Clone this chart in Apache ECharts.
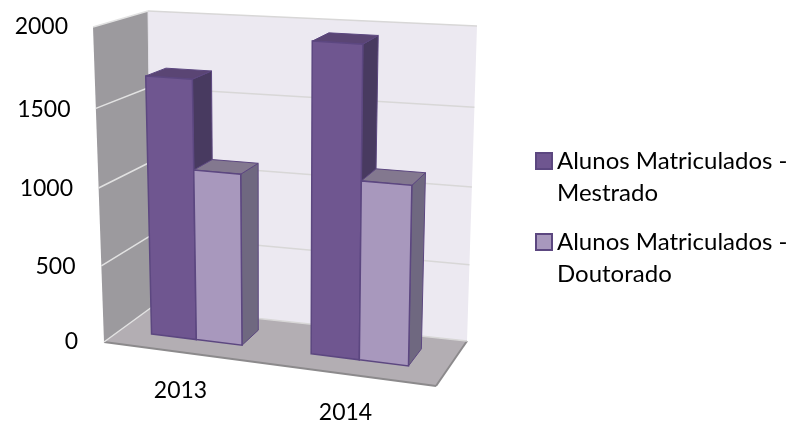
<!DOCTYPE html>
<html><head><meta charset="utf-8"><style>html,body{margin:0;background:#fff}#c{width:796px;height:421px}</style>
<script src="https://cdn.jsdelivr.net/npm/echarts@6/dist/echarts.min.js"></script></head>
<body><div id="c"></div><script>
const categories = ['2013', '2014'];
const mestrado = [1674, 1954];
const doutorado = [1104, 1128];
const seriesNames = ['Alunos Matriculados -\nMestrado', 'Alunos Matriculados -\nDoutorado'];
const yTicks = [0, 500, 1000, 1500, 2000];

// perspective box of the 3D chart: u along categories, v along values, w along depth
const FLB=[104,342],FRB=[436,386],FLT=[93,27],FRT=[443,50];
const BLB=[152,307],BRB=[467,341],BLT=[148,11],BRT=[477,26];
const GRID={left:98,top:27,width:330,height:315,outerBoundsMode:'none'};
const W1=0.34,W2=0.73,PERSP_V=0.956,PERSP_U=0.927;
const FONT='Lato',FS=24,FS_AXIS=23;
const labelShift={0:0,500:3,1000:4,1500:4,2000:0};
const lerp=(a,b,t)=>[a[0]+(b[0]-a[0])*t,a[1]+(b[1]-a[1])*t];
function proj(u,v,w){
  const h=v*(PERSP_V+(1-PERSP_V)*v);
  const s=u*(PERSP_U+(1-PERSP_U)*u);
  const f=lerp(lerp(FLB,FRB,s),lerp(FLT,FRT,s),h);
  const b=lerp(lerp(BLB,BRB,s),lerp(BLT,BRT,s),h);
  return lerp(f,b,w);
}
const uv=(p,cs)=>[(p[0]-cs.x)/cs.width,(cs.y+cs.height-p[1])/cs.height];
const poly=(points,fill,stroke,lw)=>({type:'polygon',shape:{points},style:{fill,stroke:stroke||null,lineWidth:lw||0}});
const line=(a,b,stroke,lw)=>({type:'line',shape:{x1:a[0],y1:a[1],x2:b[0],y2:b[1]},style:{stroke,lineWidth:lw}});

function wallsItem(params,api){
  return {type:'group',children:[
    poly([proj(0,1,0),proj(0,1,1),proj(0,0,1),proj(0,0,0)],'#9c9a9e'),
    poly([proj(0,1,1),proj(1,1,1),proj(1,0,1),proj(0,0,1)],'#ece9f1'),
    poly([proj(0,0,0),proj(0,0,1),proj(1,0,1),proj(1,0,0)],'#b3aeb3'),
    line(proj(0,0,0),proj(1,0,0),'#8c8a8c',2),
    line(proj(1,0,0),proj(1,0,1),'#8c8a8c',2),
    line(proj(0,1,1),proj(0,0,1),'#e4e2e8',1)
  ]};
}
function gridItem(params,api){
  const cs=params.coordSys;
  const v=uv(api.coord([0,api.value(0)]),cs)[1];
  return {type:'group',children:[
    line(proj(0,v,0),proj(0,v,1),'#e2e2e2',1.5),
    line(proj(0,v,1),proj(1,v,1),'#d8d7d7',1.5)
  ]};
}
function barItem(offset,cols){
  return function(params,api){
    const cs=params.coordSys;
    const c=api.coord([api.value(0),api.value(1)]);
    const band=api.size([1,0])[0];
    const [uc,v]=uv(c,cs);
    const bw=0.288*band/cs.width;
    const u1=uc+(offset*0.288-0.295)*band/cs.width;
    const u2=u1+bw;
    const B='#5c4780';
    return {type:'group',children:[
      poly([proj(u2,0,W1),proj(u2,0,W2),proj(u2,v,W2),proj(u2,v,W1)],cols.side,B,1),
      poly([proj(u1,v,W1),proj(u1,v,W2),proj(u2,v,W2),proj(u2,v,W1)],cols.top,B,1),
      poly([proj(u1,0,W1),proj(u2,0,W1),proj(u2,v,W1),proj(u1,v,W1)],cols.front,B,1.5)
    ]};
  };
}
const barSeries=(name,data,offset,cols,z)=>({
  name,type:'custom',coordinateSystem:'cartesian2d',clip:false,z,
  data:data.map((d,i)=>[i,d]),encode:{x:0,y:1},
  itemStyle:{color:cols.front,borderColor:'#5c4780',borderWidth:2},
  renderItem:barItem(offset,cols)
});
const chart=echarts.init(document.getElementById('c'),null,{renderer:'canvas'});
chart.setOption({
  animation:false,backgroundColor:'#fff',
  textStyle:{fontFamily:FONT},
  grid:Object.assign({},GRID),
  xAxis:{type:'category',data:categories,axisLine:{show:false},axisTick:{show:false},
    axisLabel:{interval:0,margin:37,
      formatter:v=>v===categories[1]?'{b|'+v+'}':'{a|'+v+'}',
      rich:{a:{fontSize:FS_AXIS,fontFamily:FONT,color:'#000'},b:{fontSize:FS_AXIS,fontFamily:FONT,color:'#000',padding:[22,0,0,0]}}}},
  yAxis:{type:'value',min:0,max:2000,interval:500,splitLine:{show:false},axisLine:{show:false},axisTick:{show:false},
    axisLabel:{margin:20,fontSize:FS_AXIS,fontFamily:FONT,color:'#000',
      formatter:v=>'{r'+v+'|'+v+'}',
      rich:Object.fromEntries(yTicks.map(t=>['r'+t,{fontSize:FS_AXIS,fontFamily:FONT,color:'#000',padding:[labelShift[t]*2,t/2000*10,0,0]}]))}},
  legend:{data:seriesNames,orient:'vertical',left:530,top:140,
    icon:'path://M0,0H16V16H0Z M0,48L0,48',itemWidth:16,itemHeight:48,itemGap:17,
    textStyle:{fontSize:FS,fontFamily:FONT,color:'#000',lineHeight:32},
    selectedMode:false,itemStyle:{borderColor:'#5c4780',borderWidth:2}},
  series:[
    {type:'custom',name:'walls',coordinateSystem:'cartesian2d',clip:false,z:1,silent:true,data:[[0,0]],encode:{x:0,y:1},renderItem:wallsItem},
    {type:'custom',name:'grid',coordinateSystem:'cartesian2d',clip:false,z:2,silent:true,data:yTicks.map(t=>[t]),encode:{y:0},renderItem:gridItem},
    barSeries(seriesNames[0],mestrado,0,{front:'#6f5690',side:'#483a60',top:'#5a4574'},3),
    barSeries(seriesNames[1],doutorado,1,{front:'#a898bd',side:'#6f6880',top:'#83788f'},4)
  ]
});
</script></body></html>
